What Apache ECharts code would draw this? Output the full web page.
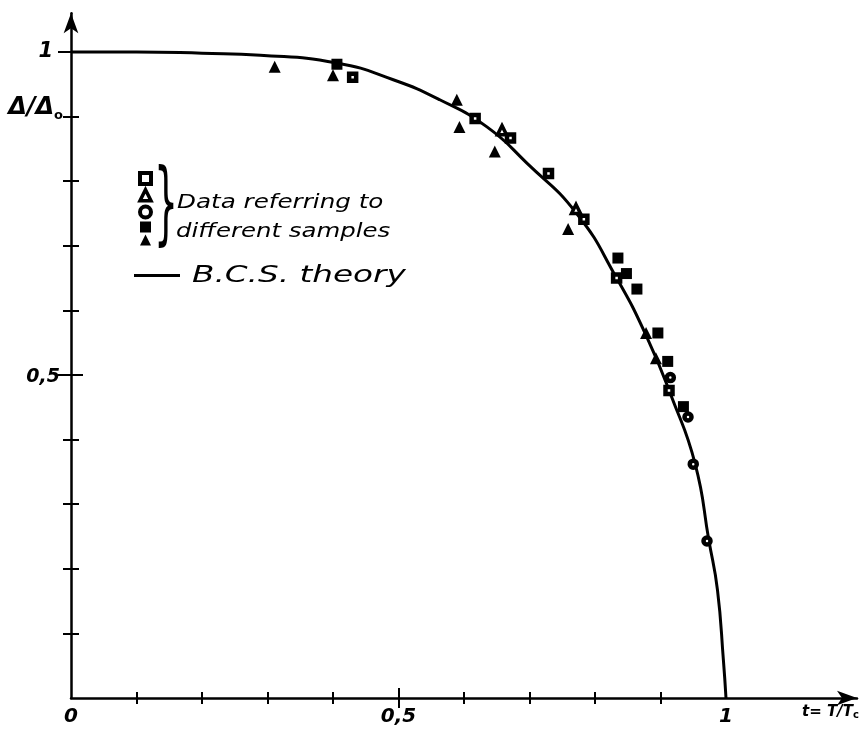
<!DOCTYPE html>
<html><head><meta charset="utf-8">
<script src="https://cdn.jsdelivr.net/npm/echarts@6/dist/echarts.min.js"></script>
<style>html,body{margin:0;padding:0;background:#fff}#c{width:863px;height:738px}</style>
</head><body><div id="c"></div>
<script>
// BCS theory curve
const curveT = [0, 0.1, 0.2, 0.289, 0.406, 0.492, 0.563, 0.635, 0.696, 0.772, 0.833, 0.879, 0.917, 0.953, 0.974, 0.987, 0.996, 1.0];
const curveR = [1.0, 1.0, 0.998, 0.995, 0.983, 0.957, 0.926, 0.884, 0.828, 0.750, 0.650, 0.559, 0.466, 0.362, 0.243, 0.167, 0.059, 0];
// sample data
const openSqT = [0.430, 0.617, 0.671, 0.729, 0.783, 0.833, 0.913];
const openSqR = [0.961, 0.897, 0.867, 0.812, 0.741, 0.650, 0.476];
const openTriT = [0.658, 0.771];
const openTriR = [0.879, 0.757];
const openCirT = [0.915, 0.942, 0.950, 0.971];
const openCirR = [0.496, 0.435, 0.362, 0.243];
const fillSqT = [0.406, 0.835, 0.848, 0.864, 0.896, 0.911, 0.935];
const fillSqR = [0.981, 0.681, 0.657, 0.633, 0.565, 0.521, 0.451];
const fillTriT = [0.311, 0.400, 0.589, 0.593, 0.647, 0.759, 0.878, 0.893];
const fillTriR = [0.977, 0.964, 0.926, 0.884, 0.846, 0.726, 0.565, 0.526];
// ticks and labels
const xTickVals = [0.1, 0.2, 0.3, 0.4, 0.6, 0.7, 0.8, 0.9];
const yTickVals = [0.1, 0.2, 0.3, 0.4, 0.6, 0.7, 0.8, 0.9];
const xLabelVals = [0, 0.5, 1];
const xLabelText = ['0', '0,5', '1'];
const yLabelVals = [0.5, 0.9, 1];

const zip = (a, b) => a.map((v, i) => [v, b[i]]);
const FONT = 'DejaVu Sans';
const BLACK = '#000';

function xAx(ticks, len, inside, main) {
  const a = {
    type: 'value', min: 0, max: 1.2, position: 'bottom', gridIndex: 0,
    splitLine: { show: false },
    axisLine: { show: false },
    axisLabel: { show: false },
    axisTick: { show: true, inside: inside, length: len, customValues: ticks, lineStyle: { color: BLACK, width: 2 } }
  };
  if (main) {
    a.axisLine = { show: true, symbol: ['none', 'arrow'], symbolSize: [11, 20], lineStyle: { color: BLACK, width: 2.5 } };
    a.axisLabel = {
      show: true, customValues: xLabelVals, margin: 9,
      formatter: v => xLabelText[xLabelVals.indexOf(v)],
      fontFamily: FONT, fontSize: 20, fontStyle: 'italic', fontWeight: 'bold', color: BLACK
    };
  }
  return a;
}
function yAx(ticks, len, inside, main) {
  const a = {
    type: 'value', min: 0, max: 1.06, position: 'left', gridIndex: 0,
    splitLine: { show: false },
    axisLine: { show: false },
    axisLabel: { show: false },
    axisTick: { show: true, inside: inside, length: len, customValues: ticks, lineStyle: { color: BLACK, width: 2 } }
  };
  if (main) {
    a.axisLine = { show: true, symbol: ['none', 'arrow'], symbolSize: [11, 20], lineStyle: { color: BLACK, width: 2.5 } };
    a.axisLabel = {
      show: true, customValues: yLabelVals, margin: 8,
      formatter: v => v === 1 ? '{one|1}' : (v === 0.5 ? '{h|0,5}' : '{d|Δ/Δ}{s|o}'),
      rich: {
        one: { fontFamily: FONT, fontSize: 21, fontStyle: 'italic', fontWeight: 'bold', color: BLACK, padding: [0, 10, 0, 0] },
        h: { fontFamily: FONT, fontSize: 19, fontStyle: 'italic', fontWeight: 'bold', color: BLACK, padding: [4, 3, 0, 0] },
        d: { fontFamily: FONT, fontSize: 24, fontStyle: 'italic', fontWeight: 'bold', color: BLACK, padding: [0, 0, 18, 0] },
        s: { fontFamily: FONT, fontSize: 13, fontWeight: 'bold', color: BLACK, padding: [0, 0, 2, 0] }
      }
    };
  }
  return a;
}

const openStyle = { color: '#fff', borderColor: BLACK, borderWidth: 4.5, opacity: 1 };
const openTriStyle = { color: '#fff', borderColor: BLACK, borderWidth: 3.5, opacity: 1 };
const fillStyle = { color: BLACK, borderColor: BLACK, borderWidth: 0, opacity: 1 };

const option = {
  backgroundColor: '#fff',
  animation: false,
  grid: { left: 71, right: 6, top: 13.2, bottom: 40, containLabel: false, outerBoundsMode: 'none' },
  xAxis: [
    xAx(xTickVals, 6, false, true),
    xAx(xTickVals, 6, true, false),
    xAx([0.5], 10, false, false),
    xAx([0.5], 10, true, false)
  ],
  yAxis: [
    yAx(yTickVals, 8, false, true),
    yAx(yTickVals, 8, true, false),
    yAx([0.5, 1], 13, false, false),
    yAx([0.5], 12, true, false)
  ],
  legend: [
    {
      orient: 'vertical', left: 138, top: 171, itemWidth: 11, itemHeight: 11, itemGap: 2,
      padding: 0, formatter: () => '', selectedMode: false,
      textStyle: { fontSize: 4, lineHeight: 4 },
      data: [
        { name: 'open square', itemStyle: { borderWidth: 4, color: '#fff', borderColor: BLACK } },
        { name: 'open triangle', itemStyle: { borderWidth: 3.5, color: '#fff', borderColor: BLACK } },
        { name: 'open circle', itemStyle: { borderWidth: 4, color: '#fff', borderColor: BLACK } },
        { name: 'filled square', itemStyle: { color: BLACK, opacity: 1 } },
        { name: 'filled triangle', itemStyle: { color: BLACK, opacity: 1 } }
      ]
    },
    {
      left: 134, top: 274, itemWidth: 46, itemHeight: 3, padding: 0,
      formatter: () => '', selectedMode: false,
      textStyle: { fontSize: 4, lineHeight: 4 },
      data: [{ name: 'B.C.S. theory', icon: 'rect', itemStyle: { color: BLACK } }]
    }
  ],
  series: [
    {
      name: 'B.C.S. theory', type: 'line', data: zip(curveT, curveR),
      symbol: 'none', smooth: 0.5,
      lineStyle: { color: BLACK, width: 3 }, itemStyle: { color: BLACK }, z: 2
    },
    { name: 'open square', type: 'scatter', data: zip(openSqT, openSqR), symbol: 'rect', symbolSize: 7, itemStyle: openStyle, z: 3 },
    { name: 'open triangle', type: 'scatter', data: zip(openTriT, openTriR), symbol: 'triangle', symbolSize: 9, itemStyle: openTriStyle, z: 3 },
    { name: 'open circle', type: 'scatter', data: zip(openCirT, openCirR), symbol: 'circle', symbolSize: 7, itemStyle: openStyle, z: 3 },
    { name: 'filled square', type: 'scatter', data: zip(fillSqT, fillSqR), symbol: 'rect', symbolSize: 11, itemStyle: fillStyle, z: 3 },
    { name: 'filled triangle', type: 'scatter', data: zip(fillTriT, fillTriR), symbol: 'triangle', symbolSize: 12, itemStyle: fillStyle, z: 3 }
  ],
  graphic: [
    { type: 'text', x: 154, y: 210, scaleX: 0.42, style: { text: '}', font: 'normal 90px "DejaVu Sans"', fill: BLACK, textVerticalAlign: 'middle' } },
    { type: 'text', x: 177, y: 203, scaleX: 1.23, style: { text: 'Data referring to', font: 'italic 20px "DejaVu Sans"', fill: BLACK, textVerticalAlign: 'middle' } },
    { type: 'text', x: 176, y: 232, scaleX: 1.22, style: { text: 'different samples', font: 'italic 20px "DejaVu Sans"', fill: BLACK, textVerticalAlign: 'middle' } },
    { type: 'text', x: 192, y: 276, scaleX: 1.42, style: { text: 'B.C.S. theory', font: 'italic 23px "DejaVu Sans"', fill: BLACK, textVerticalAlign: 'middle' } },
    { type: 'text', x: 802, y: 712, style: { rich: { a: { font: 'italic bold 15px "DejaVu Sans"', fill: BLACK }, c: { font: 'bold 10px "DejaVu Sans"', fill: BLACK, padding: [7, 0, 0, 0] } }, text: '{a|t= T/T}{c|c}', textVerticalAlign: 'middle' } }
  ]
};
echarts.init(document.getElementById('c'), null, { renderer: 'canvas' }).setOption(option);
</script></body></html>
